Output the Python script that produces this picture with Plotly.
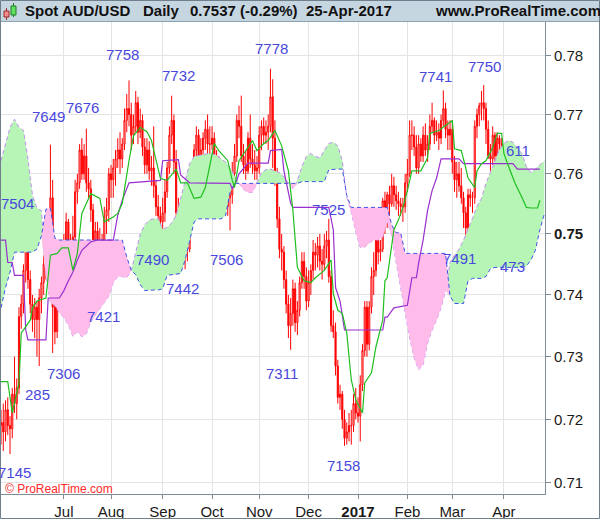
import math

import pandas as pd
import plotly.graph_objects as go

# trading days, 24-May-2016 .. 28-Apr-2017 (last candle is 25-Apr-2017, cloud runs a bit further)
dates = pd.bdate_range("2016-05-24", periods=244)

opens = [
    .7190, .7195, .7180, .7215, .7190, .7185, .7240, .7225, .7250, .7365, .7385, .7440, .7480, .7425,
    .7385, .7360, .7380, .7360, .7395, .7420, .7450, .7440, .7490, .7560, .7380, .7340, .7420, .7445,
    .7450, .7470, .7520, .7455, .7490, .7495, .7570, .7585, .7640, .7600, .7630, .7585, .7575, .7540,
    .7480, .7505, .7480, .7490, .7455, .7530, .7540,
    .7600, .7590, .7610, .7625, .7640, .7625, .7650, .7690, .7710, .7700, .7665, .7680, .7720, .7670,
    .7690, .7645, .7615, .7640, .7605, .7610, .7580, .7545, .7530,
    .7520, .7535, .7570, .7610, .7665, .7690, .7620, .7535, .7530, .7475, .7480, .7505, .7475, .7550,
    .7580, .7640, .7665, .7625, .7640, .7660, .7675, .7650,
    .7650, .7660, .7600, .7620, .7585, .7580, .7600, .7545, .7560, .7565, .7600, .7630, .7690, .7680,
    .7630, .7615, .7605, .7660, .7625, .7615, .7605,
    .7610, .7665, .7680, .7665, .7670, .7680, .7730, .7660, .7595, .7525, .7475, .7470, .7425, .7385,
    .7350, .7370, .7410, .7355, .7375, .7420, .7455, .7430,
    .7390, .7420, .7440, .7470, .7465, .7480, .7455, .7450, .7480, .7490, .7430, .7350, .7340, .7285,
    .7235, .7240, .7200, .7170, .7180, .7190, .7190, .7225,
    .7210, .7205, .7255, .7310, .7380, .7320, .7380, .7430, .7440, .7490, .7470, .7475, .7555, .7520,
    .7565, .7550, .7580, .7565, .7555, .7550, .7545, .7545,
    .7585, .7600, .7665, .7665, .7645, .7610, .7650, .7630, .7665, .7640, .7650, .7680, .7690, .7665,
    .7670, .7660, .7690, .7710, .7675, .7665,
    .7675, .7620, .7590, .7600, .7580, .7560, .7535, .7510, .7565, .7560, .7560, .7680, .7700, .7715,
    .7720, .7710, .7675, .7630, .7625, .7665, .7630, .7660, .7650,
    .7635, .7600, .7575, .7570, .7545, .7530, .7525, .7480, .7550, .7575, .7580, .7590, .7545, .7515,
    .7550, .7515, .7560,
]
highs = [
    .7215, .7225, .7230, .7235, .7205, .7250, .7300, .7265, .7380, .7400, .7450, .7490, .7504, .7440,
    .7400, .7395, .7390, .7410, .7430, .7465, .7475, .7520, .7649, .7590, .7420, .7440, .7465, .7475,
    .7500, .7535, .7525, .7500, .7530, .7590, .7600, .7650, .7660, .7650, .7676, .7610, .7590, .7550,
    .7520, .7520, .7510, .7500, .7545, .7560, .7610,
    .7615, .7625, .7640, .7660, .7670, .7660, .7710, .7735, .7758, .7720, .7700, .7740, .7730, .7710,
    .7700, .7660, .7660, .7655, .7630, .7680, .7590, .7565, .7545,
    .7560, .7590, .7620, .7680, .7732, .7700, .7640, .7560, .7545, .7500, .7520, .7520, .7560, .7590,
    .7650, .7680, .7675, .7660, .7670, .7690, .7700, .7680,
    .7680, .7670, .7640, .7630, .7620, .7615, .7610, .7580, .7575, .7620, .7650, .7700, .7715, .7732,
    .7650, .7640, .7670, .7700, .7650, .7640, .7630,
    .7680, .7690, .7695, .7690, .7700, .7778, .7760, .7690, .7610, .7545, .7500, .7480, .7440, .7400,
    .7395, .7425, .7420, .7390, .7430, .7470, .7470, .7445,
    .7440, .7450, .7490, .7485, .7495, .7500, .7475, .7500, .7505, .7525, .7440, .7375, .7355, .7295,
    .7255, .7245, .7215, .7195, .7210, .7215, .7240, .7250,
    .7235, .7270, .7320, .7390, .7390, .7390, .7445, .7470, .7505, .7500, .7490, .7560, .7570, .7570,
    .7580, .7600, .7595, .7580, .7570, .7560, .7560, .7600,
    .7625, .7690, .7690, .7680, .7665, .7665, .7660, .7680, .7685, .7665, .7700, .7720, .7695, .7690,
    .7685, .7700, .7741, .7720, .7690, .7690,
    .7690, .7630, .7620, .7620, .7610, .7570, .7545, .7575, .7575, .7570, .7690, .7710, .7720, .7740,
    .7750, .7720, .7690, .7650, .7680, .7670, .7670, .7665, .7660,
    .7640, .7605, .7600, .7580, .7560, .7550, .7535, .7560, .7595, .7590, .7611, .7600, .7560, .7565,
    .7560, .7580, .7575,
]
lows = [
    .7160, .7150, .7165, .7175, .7145, .7170, .7210, .7200, .7240, .7345, .7370, .7420, .7410, .7370,
    .7340, .7330, .7300, .7285, .7370, .7400, .7425, .7420, .7480, .7306, .7320, .7330, .7400, .7420,
    .7440, .7465, .7445, .7430, .7470, .7480, .7550, .7575, .7590, .7590, .7570, .7560, .7520, .7475,
    .7460, .7460, .7465, .7440, .7421, .7500, .7520,
    .7560, .7560, .7580, .7610, .7600, .7610, .7640, .7670, .7680, .7640, .7650, .7670, .7650, .7660,
    .7630, .7600, .7600, .7590, .7580, .7560, .7530, .7510, .7505,
    .7490, .7520, .7560, .7600, .7650, .7600, .7525, .7500, .7465, .7450, .7442, .7455, .7470, .7540,
    .7570, .7620, .7615, .7610, .7620, .7640, .7630, .7620,
    .7640, .7590, .7590, .7570, .7560, .7570, .7530, .7530, .7506, .7550, .7590, .7620, .7660, .7620,
    .7600, .7590, .7600, .7610, .7600, .7590, .7590,
    .7600, .7640, .7650, .7650, .7640, .7670, .7610, .7580, .7510, .7460, .7440, .7410, .7370, .7330,
    .7311, .7350, .7340, .7335, .7365, .7410, .7410, .7375,
    .7380, .7400, .7425, .7440, .7445, .7440, .7425, .7440, .7460, .7420, .7340, .7330, .7270, .7225,
    .7215, .7185, .7158, .7160, .7165, .7160, .7180, .7200,
    .7195, .7165, .7245, .7300, .7300, .7310, .7370, .7400, .7430, .7450, .7455, .7470, .7500, .7510,
    .7530, .7545, .7545, .7540, .7530, .7530, .7520, .7535,
    .7570, .7595, .7640, .7630, .7600, .7600, .7620, .7620, .7630, .7620, .7640, .7670, .7650, .7655,
    .7640, .7650, .7680, .7660, .7640, .7640,
    .7600, .7570, .7560, .7570, .7550, .7510, .7491, .7500, .7545, .7535, .7550, .7660, .7680, .7690,
    .7690, .7650, .7625, .7605, .7615, .7620, .7620, .7630, .7620,
    .7595, .7560, .7560, .7535, .7510, .7515, .7473, .7475, .7540, .7560, .7560, .7530, .7505, .7510,
    .7505, .7510, .7525,
]
closes = [
    .7195, .7180, .7215, .7190, .7185, .7240, .7225, .7250, .7365, .7385, .7440, .7480, .7425, .7385,
    .7360, .7380, .7360, .7395, .7420, .7450, .7440, .7490, .7560, .7380, .7340, .7420, .7445, .7450,
    .7470, .7520, .7455, .7490, .7495, .7570, .7585, .7640, .7600, .7630, .7585, .7575, .7540, .7480,
    .7505, .7480, .7490, .7455, .7530, .7540, .7600,
    .7590, .7610, .7625, .7640, .7625, .7650, .7690, .7710, .7700, .7665, .7680, .7720, .7670, .7690,
    .7645, .7615, .7640, .7605, .7610, .7580, .7545, .7530, .7520,
    .7535, .7570, .7610, .7665, .7690, .7620, .7535, .7530, .7475, .7480, .7505, .7475, .7550, .7580,
    .7640, .7665, .7625, .7640, .7660, .7675, .7650, .7650,
    .7660, .7600, .7620, .7585, .7580, .7600, .7545, .7560, .7565, .7600, .7630, .7690, .7680, .7630,
    .7615, .7605, .7660, .7625, .7615, .7605, .7610,
    .7665, .7680, .7665, .7670, .7680, .7730, .7660, .7595, .7525, .7475, .7470, .7425, .7385, .7350,
    .7370, .7410, .7355, .7375, .7420, .7455, .7430, .7390,
    .7420, .7440, .7470, .7465, .7480, .7455, .7450, .7480, .7490, .7430, .7350, .7340, .7285, .7235,
    .7240, .7200, .7170, .7180, .7190, .7190, .7225, .7210,
    .7205, .7255, .7310, .7380, .7320, .7380, .7430, .7440, .7490, .7470, .7475, .7555, .7520, .7565,
    .7550, .7580, .7565, .7555, .7550, .7545, .7545, .7585,
    .7600, .7665, .7665, .7645, .7610, .7650, .7630, .7665, .7640, .7650, .7680, .7690, .7665, .7670,
    .7660, .7690, .7710, .7675, .7665, .7675,
    .7620, .7590, .7600, .7580, .7560, .7535, .7510, .7565, .7560, .7560, .7680, .7700, .7715, .7720,
    .7710, .7675, .7630, .7625, .7665, .7630, .7660, .7650, .7635,
    .7600, .7575, .7570, .7545, .7530, .7525, .7480, .7550, .7575, .7580, .7590, .7545, .7515, .7550,
    .7515, .7560, .7537,
]

# Tenkan-sen (green), read at day indexes
tenkan_idx = [0, 3, 5, 8, 9, 11, 13, 14, 16, 20, 22, 25, 27, 30, 32, 34, 36, 40, 44, 46,
              50, 52, 54, 57, 59, 62, 65, 67, 69, 71, 74, 78, 80, 83, 86, 89, 91, 93, 95, 97,
              101, 103, 104, 106, 110, 112, 114, 117, 119, 122, 125, 128, 130, 131, 132, 135, 138, 140, 144, 147,
              148, 150, 152, 154, 156, 158, 161, 162, 165, 167, 170, 171, 172, 175, 177, 179, 181, 183, 187, 190,
              191, 195, 198, 201, 202, 205, 207, 208, 211, 212, 214, 216, 219, 221, 223, 224, 226, 229, 232, 234,
              236, 239, 240]
tenkan_val = [.7260, .7260, .7210, .7258, .7338, .7348, .7359, .7379, .7390, .7395,
              .7465, .7468, .7477, .7477, .7440, .7468, .7534, .7567, .7559, .7520,
              .7528, .7534, .7551, .7622, .7664, .7678, .7671, .7656, .7625, .7592,
              .7589, .7608, .7585, .7585, .7559, .7561, .7577, .7617, .7651, .7639,
              .7622, .7589, .7577, .7622, .7644, .7656, .7639, .7651, .7656, .7673,
              .7647, .7605, .7539, .7490, .7445, .7423, .7420, .7428, .7440, .7457,
              .7402, .7375, .7370, .7338, .7263, .7231, .7210, .7258, .7274, .7316,
              .7359, .7423, .7428, .7507, .7523, .7544, .7572, .7605, .7605, .7627,
              .7668, .7673, .7681, .7690, .7642, .7639, .7610, .7593, .7577, .7605,
              .7617, .7622, .7644, .7668, .7668, .7634, .7613, .7584, .7561, .7544,
              .7543, .7543, .7556]

# Kijun-sen (purple)
kijun_idx = [0, 2, 3, 5, 6, 10, 11, 12, 20, 21, 26, 28, 30, 32, 34, 36, 40, 43, 50, 52,
             54, 57, 71, 72, 79, 80, 84, 102, 103, 105, 106, 110, 119, 120, 125, 126, 129, 130, 146, 148,
             149, 151, 153, 170, 171, 172, 175, 181, 183, 185, 186, 188, 190, 192, 194, 196, 204, 206, 228, 230,
             240]
kijun_val = [.7490, .7490, .7453, .7453, .7432, .7432, .7343, .7327, .7327, .7395,
             .7395, .7407, .7423, .7437, .7457, .7473, .7487, .7490, .7490, .7531,
             .7556, .7585, .7589, .7622, .7624, .7598, .7585, .7584, .7575, .7589,
             .7600, .7618, .7618, .7639, .7641, .7605, .7551, .7544, .7544, .7507,
             .7412, .7390, .7343, .7343, .7364, .7364, .7379, .7383, .7428, .7428,
             .7452, .7490, .7539, .7572, .7593, .7625, .7625, .7617, .7617, .7608,
             .7608]

# cloud, read every second day (index 0, 2, ... 242)
cloud_idx = list(range(0, 243, 2))
span_a = [.7622, .7651, .7678, .7692, .7678, .7673, .7625, .7564, .7543, .7539,
          .7430, .7387, .7383, .7371, .7363, .7351, .7333, .7340, .7332, .7337,
          .7356, .7367, .7378, .7387, .7398, .7420, .7430, .7430, .7428, .7440,
          .7470, .7500, .7515, .7523, .7525, .7526, .7508, .7511, .7518, .7531,
          .7559, .7589, .7617, .7629, .7631, .7632, .7634, .7634, .7631, .7625,
          .7620, .7610, .7597, .7584, .7574, .7569, .7569, .7585, .7602, .7607,
          .7608, .7605, .7602, .7595, .7585, .7575, .7589, .7612, .7629, .7634,
          .7629, .7627, .7639, .7651, .7653, .7647, .7622, .7561, .7536, .7503,
          .7478, .7478, .7485, .7490, .7490, .7495, .7520, .7498, .7453, .7415,
          .7371, .7330, .7298, .7279, .7287, .7322, .7343, .7359, .7379, .7407,
          .7453, .7465, .7475, .7490, .7507, .7526, .7546, .7559, .7584, .7602,
          .7622, .7641, .7651, .7656, .7653, .7644, .7634, .7612, .7602, .7608,
          .7615, .7622]
span_b = [.7379, .7412, .7437, .7470, .7470, .7470, .7470, .7470, .7475, .7497,
          .7541, .7543, .7493, .7490, .7490, .7490, .7490, .7490, .7490, .7490,
          .7490, .7490, .7490, .7490, .7490, .7490, .7490, .7490, .7462, .7440,
          .7433, .7417, .7407, .7408, .7408, .7408, .7410, .7432, .7433, .7433,
          .7435, .7457, .7487, .7520, .7525, .7525, .7525, .7525, .7525, .7525,
          .7530, .7569, .7584, .7584, .7584, .7584, .7584, .7584, .7584, .7584,
          .7584, .7584, .7584, .7584, .7584, .7584, .7584, .7587, .7587, .7587,
          .7587, .7587, .7587, .7607, .7608, .7608, .7608, .7564, .7544, .7544,
          .7544, .7544, .7544, .7544, .7544, .7544, .7544, .7515, .7502, .7502,
          .7468, .7468, .7468, .7468, .7468, .7468, .7468, .7468, .7468, .7468,
          .7398, .7386, .7386, .7386, .7423, .7427, .7427, .7427, .7430, .7443,
          .7445, .7445, .7445, .7445, .7445, .7445, .7445, .7447, .7457, .7473,
          .7507, .7533]

month_ticks = ["2016-07-01", "2016-08-01", "2016-09-01", "2016-10-03", "2016-11-01",
               "2016-12-01", "2017-01-02", "2017-02-01", "2017-03-01", "2017-04-03"]
month_labels = ["Jul", "Aug", "Sep", "Oct", "Nov", "Dec", "<b>2017</b>", "Feb", "Mar", "Apr"]
price_ticks = [0.71, 0.72, 0.73, 0.74, 0.75, 0.76, 0.77, 0.78]
price_labels = ["0.71", "0.72", "0.73", "0.74", "<b>0.75</b>", "0.76", "0.77", "0.78"]

# swing labels: text, pixel x, pixel y
swing_labels = [("7758", 122, 54), ("7732", 178, 75), ("7676", 82, 108), ("7649", 48, 116),
                ("7778", 271, 49), ("7741", 435, 76), ("7750", 484, 67), ("7504", 17, 203),
                ("7490", 152, 259), ("7442", 182, 288), ("7506", 226, 259), ("7525", 328, 209),
                ("7421", 103, 316), ("7306", 63, 373), ("285", 37, 394), ("7145", 14, 472),
                ("7311", 282, 373), ("7158", 343, 465), ("7491", 459, 258), ("473", 512, 266),
                ("611", 518, 150)]

header_items = [("Spot AUD/USD", 23), ("Daily", 141), ("0.7537 (-0.29%)", 188),
                ("25-Apr-2017", 304), ("www.ProRealTime.com", 433)]

GREEN_FILL = "#b6f5b6"
PINK_FILL = "#ffbbe9"
SPAN_A_COLOR = "#c28ef2"
SPAN_B_COLOR = "#3d55e6"
KIJUN_COLOR = "#9a2fd0"
TENKAN_COLOR = "#1fbf1f"
AXIS_COLOR = "#7d8b96"
GRID_COLOR = "#e4e4e4"

PLOT_W, PLOT_TOP, PLOT_BOTTOM = 545, 22, 494


def px_x(x):
    return x / PLOT_W


def px_y(y):
    return (PLOT_BOTTOM - y) / (PLOT_BOTTOM - PLOT_TOP)


fig = go.Figure()

cloud_x = [dates[i] for i in cloud_idx]
base = [min(a, b) for a, b in zip(span_a, span_b)]

fig.add_trace(go.Scatter(x=cloud_x, y=base, mode="lines", line=dict(width=0), hoverinfo="skip"))
fig.add_trace(go.Scatter(x=cloud_x, y=span_a, mode="lines", fill="tonexty", fillcolor=GREEN_FILL,
                         line=dict(color=SPAN_A_COLOR, width=1, dash="4px,3px"), name="Span A"))
fig.add_trace(go.Scatter(x=cloud_x, y=base, mode="lines", line=dict(width=0), hoverinfo="skip"))
fig.add_trace(go.Scatter(x=cloud_x, y=span_b, mode="lines", fill="tonexty", fillcolor=PINK_FILL,
                         line=dict(color=SPAN_B_COLOR, width=1, dash="4px,3px"), name="Span B"))

fig.add_trace(go.Candlestick(x=dates[:len(closes)], open=opens, high=highs, low=lows, close=closes,
                             increasing=dict(line=dict(color="#ff0000", width=1), fillcolor="#ffffff"),
                             decreasing=dict(line=dict(color="#ff0000", width=1), fillcolor="#ff0000"),
                             whiskerwidth=0, name="AUD/USD"))

fig.add_trace(go.Scatter(x=[dates[i] for i in kijun_idx], y=kijun_val, mode="lines",
                         line=dict(color=KIJUN_COLOR, width=1.2), name="Kijun"))
fig.add_trace(go.Scatter(x=[dates[i] for i in tenkan_idx], y=tenkan_val, mode="lines",
                         line=dict(color=TENKAN_COLOR, width=1.2), name="Tenkan"))

annotations = []
for text, x, y in swing_labels:
    annotations.append(dict(text=text, xref="paper", yref="paper", x=px_x(x), y=px_y(y),
                            xanchor="center", yanchor="middle", showarrow=False,
                            font=dict(size=15, color="#4848dc")))
for text, x in header_items:
    annotations.append(dict(text=f"<b>{text}</b>", xref="paper", yref="paper", x=px_x(x), y=px_y(11),
                            xanchor="left", yanchor="middle", showarrow=False,
                            font=dict(size=15, color="#111111")))
annotations.append(dict(text="© ProRealTime.com", xref="paper", yref="paper", x=px_x(3), y=px_y(489),
                        xanchor="left", yanchor="middle", showarrow=False,
                        font=dict(size=12, color="#ff2a2a")))

shapes = [
    # header bar
    dict(type="rect", xref="paper", yref="paper", x0=px_x(0), x1=px_x(600), y0=px_y(21.5), y1=px_y(0),
         fillcolor="#c6d6e1", line=dict(width=0), layer="below"),
    dict(type="line", xref="paper", yref="paper", x0=px_x(0), x1=px_x(600), y0=px_y(21.5), y1=px_y(21.5),
         line=dict(color="#8ba1b1", width=1)),
    # icon
    dict(type="line", xref="paper", yref="paper", x0=px_x(6.5), x1=px_x(6.5), y0=px_y(8), y1=px_y(20),
         line=dict(color="#9a2a2a", width=1)),
    dict(type="rect", xref="paper", yref="paper", x0=px_x(4), x1=px_x(9), y0=px_y(17), y1=px_y(11),
         fillcolor="#f08c8c", line=dict(color="#9a2a2a", width=1)),
    dict(type="line", xref="paper", yref="paper", x0=px_x(13.5), x1=px_x(13.5), y0=px_y(3), y1=px_y(17),
         line=dict(color="#1f7a1f", width=1)),
    dict(type="rect", xref="paper", yref="paper", x0=px_x(11), x1=px_x(16), y0=px_y(15), y1=px_y(6),
         fillcolor="#5fe05f", line=dict(color="#1f7a1f", width=1)),
    # outer frame
    dict(type="rect", xref="paper", yref="paper", x0=px_x(0.5), x1=px_x(599.5), y0=px_y(518.5), y1=px_y(0.5),
         line=dict(color="#6f808c", width=1)),
]

fig.update_layout(
    width=600, height=519,
    margin=dict(l=0, r=55, t=22, b=25),
    paper_bgcolor="white", plot_bgcolor="white",
    showlegend=False,
    font=dict(family="Liberation Sans, Arial, sans-serif", size=15, color="#1a1a1a"),
    annotations=annotations,
    shapes=shapes,
    xaxis=dict(type="date",
               range=["2016-05-23 13:00", "2017-04-27 07:00"],
               rangebreaks=[dict(bounds=["sat", "mon"])],
               tickmode="array", tickvals=month_ticks, ticktext=month_labels,
               showgrid=True, gridcolor=GRID_COLOR, gridwidth=1,
               ticks="outside", ticklen=4, tickcolor=AXIS_COLOR,
               showline=True, linecolor=AXIS_COLOR, linewidth=1,
               rangeslider=dict(visible=False),
               tickfont=dict(size=15)),
    yaxis=dict(type="log", side="right",
               range=[math.log10(0.70825), math.log10(0.78585)],
               tickmode="array", tickvals=price_ticks, ticktext=price_labels,
               showgrid=True, gridcolor=GRID_COLOR, gridwidth=1,
               ticks="outside", ticklen=5, tickcolor=AXIS_COLOR,
               showline=True, linecolor=AXIS_COLOR, linewidth=1,
               zeroline=False, tickfont=dict(size=15)),
)

# the page's default body margin would shift the chart by 8px; hide the modebar over the header
fig.write_html("out.html", config={"displayModeBar": False},
               post_script="document.body.style.margin='0';")
